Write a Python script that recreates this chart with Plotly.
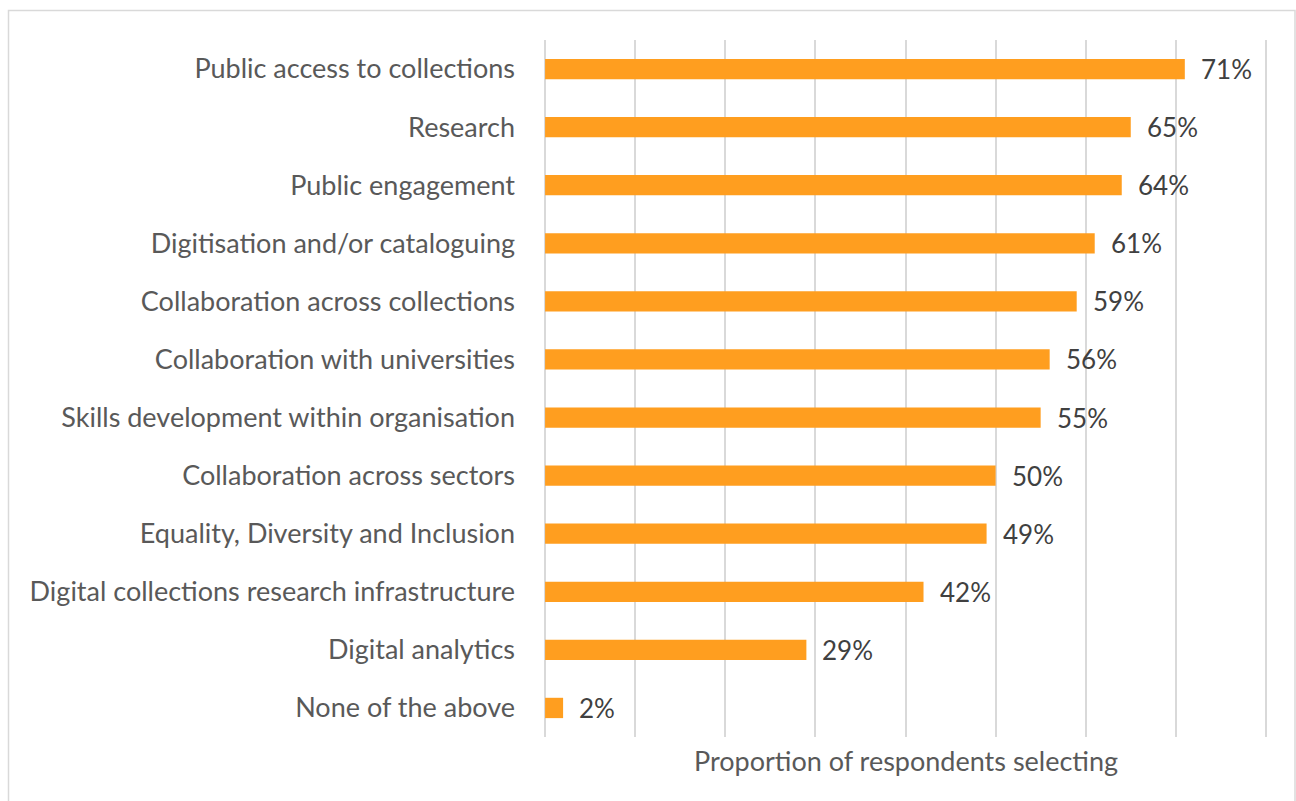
import plotly.graph_objects as go

categories = [
    "Public access to collections",
    "Research",
    "Public engagement",
    "Digitisation and/or cataloguing",
    "Collaboration across collections",
    "Collaboration with universities",
    "Skills development within organisation",
    "Collaboration across sectors",
    "Equality, Diversity and Inclusion",
    "Digital collections research infrastructure",
    "Digital analytics",
    "None of the above",
]
shares = [0.71, 0.65, 0.64, 0.61, 0.59, 0.56, 0.55, 0.50, 0.49, 0.42, 0.29, 0.02]
axis_title = "Proportion of respondents selecting"

W, H = 1296, 801
ML, MR, MT, MB = 544, 29, 40, 64
FONT = "Lato, 'Open Sans', sans-serif"
BAR = "#FF9E1F"
LABEL_GREY = "#595959"
VALUE_GREY = "#404040"

fig = go.Figure(
    go.Bar(
        x=shares,
        y=categories,
        orientation="h",
        marker=dict(color=BAR, line=dict(width=0)),
        width=0.35,
        hoverinfo="skip",
    )
)

# value labels just past the end of each bar
for cat, v in zip(categories, shares):
    fig.add_annotation(
        x=v, y=cat, xref="x", yref="y",
        text=f"{round(v * 100)}%",
        showarrow=False, xanchor="left", yanchor="middle",
        xshift=14,
        font=dict(family=FONT, size=26, color=VALUE_GREY),
    )

plot_w = W - ML - MR
plot_h = H - MT - MB

# axis title under the plot
fig.add_annotation(
    x=0.5, y=-(760 - (H - MB)) / plot_h, xref="paper", yref="paper",
    text=axis_title, showarrow=False, xanchor="center", yanchor="middle",
    font=dict(family=FONT, size=27, color=LABEL_GREY),
)

# thin chart-area frame
def px_x(p):
    return (p - ML) / plot_w

def px_y(p):
    return (H - MB - p) / plot_h

fig.add_shape(
    type="rect", xref="paper", yref="paper",
    x0=px_x(8.5), x1=px_x(1295), y0=px_y(812), y1=px_y(10.5),
    line=dict(color="#D9D9D9", width=1.5), fillcolor="rgba(0,0,0,0)",
    layer="below",
)

fig.update_layout(
    width=W, height=H,
    margin=dict(l=ML, r=MR, t=MT, b=MB, autoexpand=False),
    paper_bgcolor="white", plot_bgcolor="white",
    showlegend=False,
    font=dict(family=FONT, color=LABEL_GREY),
    xaxis=dict(
        range=[-0.0012, 0.8012], dtick=0.1, tick0=0,
        showgrid=True, gridcolor="#D9D9D9", gridwidth=1.5,
        zeroline=False, showticklabels=False, showline=False, ticks="",
        fixedrange=True,
    ),
    yaxis=dict(
        categoryorder="array", categoryarray=categories,
        autorange="reversed",
        showgrid=False, zeroline=False, showline=False, ticks="",
        ticklabelstandoff=28,
        tickfont=dict(family=FONT, size=27, color=LABEL_GREY),
        automargin=False, fixedrange=True,
    ),
)

fig.write_html("out.html")
